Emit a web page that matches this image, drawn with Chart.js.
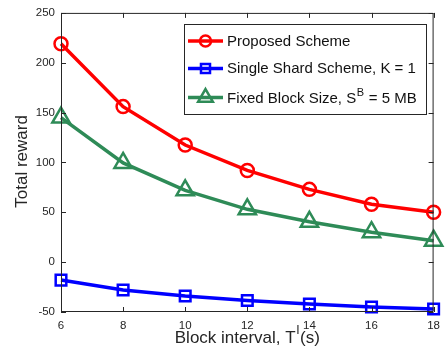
<!DOCTYPE html>
<html>
<head>
<meta charset="utf-8">
<script src="https://cdn.jsdelivr.net/npm/chart.js@4/dist/chart.umd.min.js"></script>
<style>
  html, body { margin: 0; padding: 0; background: #fff; }
  canvas { display: block; }
</style>
</head>
<body>
<canvas id="chart" width="447" height="354"></canvas>
<script>
const intervals = [6, 8, 10, 12, 14, 16, 18];
const proposed = [219, 156, 117.5, 92, 73, 58, 50];
const singleShard = [-18, -28, -34, -38.5, -42, -45, -47];
const fixedBlock = [145, 99.5, 72, 53, 40.5, 30, 21.5];
const xTicks = [6, 8, 10, 12, 14, 16, 18];
const yTicks = [-50, 0, 50, 100, 150, 200, 250];

const FONT = '"Liberation Sans", Arial, Helvetica, sans-serif';
const AXIS = '#262626';

function toPoints(values){
    return intervals.map((x, i) => ({x: x, y: values[i]}));
}

// box round the plot with inward ticks on all four sides
const frame = {
    id: 'frame',
    afterDatasetsDraw(chart){
        const {ctx, chartArea: a, scales} = chart;
        ctx.save();
        ctx.strokeStyle = AXIS;
        ctx.lineWidth = 1;
        ctx.beginPath();
        ctx.rect(a.left + 0.5, a.top + 0.5, a.right - a.left - 1, a.bottom - a.top - 1);
        for(const t of xTicks){
            const px = Math.round(scales.x.getPixelForValue(t)) + 0.5;
            ctx.moveTo(px, a.bottom);
            ctx.lineTo(px, a.bottom - 5);
            ctx.moveTo(px, a.top);
            ctx.lineTo(px, a.top + 5);
        }
        for(const t of yTicks){
            const py = Math.round(scales.y.getPixelForValue(t)) + 0.5;
            ctx.moveTo(a.left, py);
            ctx.lineTo(a.left + 5, py);
            ctx.moveTo(a.right, py);
            ctx.lineTo(a.right - 5, py);
        }
        ctx.stroke();
        ctx.restore();
    }
};

const titles = {
    id: 'titles',
    afterDraw(chart){
        const {ctx, chartArea: a} = chart;
        ctx.save();
        ctx.fillStyle = AXIS;

        // x title with superscript
        const big = '17px ' + FONT;
        const small = '12px ' + FONT;
        ctx.font = big;
        const w1 = ctx.measureText('Block interval, T').width;
        const w3 = ctx.measureText('(s)').width;
        ctx.font = small;
        const w2 = ctx.measureText('I').width + 1;
        let x = (a.left + a.right) / 2 - (w1 + w2 + w3) / 2;
        ctx.textBaseline = 'alphabetic';
        ctx.textAlign = 'left';
        ctx.font = big;
        ctx.fillText('Block interval, T', x, 343);
        ctx.font = small;
        ctx.fillText('I', x + w1 + 0.5, 334);
        ctx.font = big;
        ctx.fillText('(s)', x + w1 + w2, 343);

        // y title
        ctx.translate(22, (a.top + a.bottom) / 2 - 1);
        ctx.rotate(-Math.PI / 2);
        ctx.textAlign = 'center';
        ctx.textBaseline = 'middle';
        ctx.font = big;
        ctx.fillText('Total reward', 0, 0);
        ctx.restore();
    }
};

const legendBox = {
    id: 'legendBox',
    afterDraw(chart){
        const ctx = chart.ctx;
        const rows = [41, 68.5, 97.5];
        ctx.save();
        ctx.fillStyle = '#fff';
        ctx.fillRect(184.5, 24.5, 242, 90);
        ctx.strokeStyle = AXIS;
        ctx.lineWidth = 1;
        ctx.strokeRect(184.5, 24.5, 242, 90);

        chart.data.datasets.forEach((ds, i) => {
            const y = rows[i];
            ctx.strokeStyle = ds.borderColor;
            ctx.lineWidth = ds.borderWidth;
            ctx.beginPath();
            ctx.moveTo(188, y);
            ctx.lineTo(223, y);
            ctx.stroke();
            ctx.lineWidth = ds.pointBorderWidth;
            ctx.fillStyle = 'rgba(0,0,0,0)';
            Chart.helpers.drawPoint(ctx, {
                pointStyle: ds.pointStyle,
                rotation: 0,
                radius: ds.pointRadius * 0.85,
                borderWidth: ds.pointBorderWidth
            }, 205.5, y);
        });

        ctx.fillStyle = '#111';
        ctx.textBaseline = 'middle';
        ctx.textAlign = 'left';
        const big = '15px ' + FONT;
        ctx.font = big;
        ctx.fillText('Proposed Scheme', 227, rows[0] + 0.5);
        ctx.fillText('Single Shard Scheme, K = 1', 227, rows[1] + 0.5);
        const part = 'Fixed Block Size, S';
        ctx.fillText(part, 227, rows[2] + 1.5);
        let x = 227 + ctx.measureText(part).width;
        ctx.font = '11px ' + FONT;
        ctx.fillText('B', x + 0.5, rows[2] - 5);
        x += ctx.measureText('B').width + 1;
        ctx.font = big;
        ctx.fillText(' = 5 MB', x, rows[2] + 1.5);
        ctx.restore();
    }
};

new Chart(document.getElementById('chart'), {
    type: 'line',
    data: {
        datasets: [{
            label: 'Proposed Scheme',
            data: toPoints(proposed),
            borderColor: '#ff0000',
            borderWidth: 3.5,
            pointStyle: 'circle',
            pointRadius: 6.5,
            pointBorderWidth: 2.5,
            pointBackgroundColor: 'rgba(0,0,0,0)',
            pointBorderColor: '#ff0000'
        }, {
            label: 'Single Shard Scheme, K = 1',
            data: toPoints(singleShard),
            borderColor: '#0000ff',
            borderWidth: 3.5,
            pointStyle: 'rect',
            pointRadius: 7.5,
            pointBorderWidth: 2.5,
            pointBackgroundColor: 'rgba(0,0,0,0)',
            pointBorderColor: '#0000ff'
        }, {
            label: 'Fixed Block Size, SB = 5 MB',
            data: toPoints(fixedBlock),
            borderColor: '#2e8b57',
            borderWidth: 3.5,
            pointStyle: 'triangle',
            pointRadius: 10,
            pointBorderWidth: 2.5,
            pointBackgroundColor: 'rgba(0,0,0,0)',
            pointBorderColor: '#2e8b57'
        }]
    },
    options: {
        responsive: false,
        animation: false,
        clip: false,
        layout: {padding: {top: 7, right: 2, left: 0, bottom: 0}},
        plugins: {
            legend: {display: false},
            tooltip: {enabled: false}
        },
        scales: {
            x: {
                type: 'linear',
                min: 6,
                max: 18,
                afterFit: s => { s.height = 42; },
                afterBuildTicks: s => { s.ticks = xTicks.map(v => ({value: v})); },
                grid: {display: false, drawTicks: false},
                border: {display: false},
                ticks: {
                    color: AXIS,
                    padding: 7,
                    maxRotation: 0,
                    font: {family: FONT, size: 11.5}
                }
            },
            y: {
                min: -50,
                max: 250,
                afterFit: s => { s.width = 61; },
                afterBuildTicks: s => { s.ticks = yTicks.map(v => ({value: v})); },
                grid: {display: false, drawTicks: false},
                border: {display: false},
                ticks: {
                    color: AXIS,
                    padding: 6,
                    font: {family: FONT, size: 11.5}
                }
            }
        }
    },
    plugins: [frame, titles, legendBox]
});
</script>
</body>
</html>
